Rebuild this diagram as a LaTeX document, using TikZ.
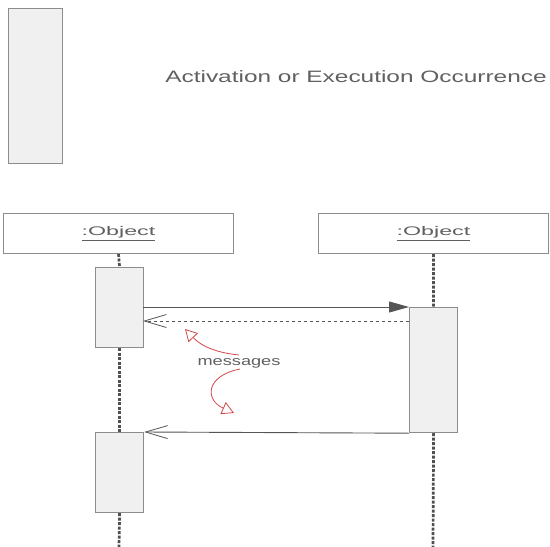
\documentclass[tikz,border=0pt]{standalone}
\usepackage{fontspec}
\setmainfont{Liberation Sans}
\usetikzlibrary{arrows.meta}
\definecolor{boxline}{HTML}{8C8C8C}
\definecolor{actfill}{HTML}{F0F0F0}
\definecolor{txt}{HTML}{606060}
\definecolor{lifeline}{HTML}{505050}
\definecolor{msg}{HTML}{555555}
\definecolor{redarr}{HTML}{D04848}
\tikzset{
  actbox/.style={draw=boxline, line width=1.2pt, fill=actfill, inner sep=0pt, minimum width=48pt, anchor=north west},
  objbox/.style={draw=boxline, line width=1pt, fill=white, inner sep=0pt, minimum width=230pt, minimum height=40pt, anchor=north west},
  lifeln/.style={draw=lifeline, line width=2.7pt, dash pattern=on 3pt off 1.5pt},
  syncmsg/.style={draw=msg, line width=0.9pt, -{Triangle[length=20pt,width=11pt]}},
  retmsg/.style={draw=msg, line width=0.8pt, dashed, -{Straight Barb[length=22pt,width=13pt,line width=0.8pt]}},
  plainmsg/.style={draw=msg, line width=0.9pt, -{Straight Barb[length=22pt,width=13pt,line width=0.8pt]}},
  redcurve/.style={draw=redarr, line width=0.8pt, -{Triangle[open,length=12pt,width=13pt,line width=0.8pt]}},
  lbl/.style={text=txt, inner sep=0pt}
}
\begin{document}
\begin{tikzpicture}[x=1pt,y=-1pt]
\useasboundingbox (0,0) rectangle (550,547);
% legend
\node[actbox, minimum width=54pt, minimum height=155pt] (legend) at (8,8) {};
\node[lbl] (legendtxt) at (356,77) {\fontsize{16.5}{18}\selectfont\scalebox{1.48}[1]{Activation or Execution Occurrence}};
% objects
\node[objbox] (objA) at (3,213) {};
\node[objbox] (objB) at (318,213) {};
\node[lbl] (labA) at (objA.center) {\fontsize{12.5}{14}\selectfont\scalebox{1.86}[1]{\underline{:Object}}};
\node[lbl] (labB) at (objB.center) {\fontsize{12.5}{14}\selectfont\scalebox{1.86}[1]{\underline{:Object}}};
% activations
\node[actbox, minimum height=80pt] (actA1) at (95,267) {};
\node[actbox, minimum height=80pt] (actA2) at (95,432) {};
\node[actbox, minimum height=125pt] (actB1) at (409,307) {};
\coordinate (endA) at (119,547);
\coordinate (endB) at (433,547);
% lifelines
\draw[lifeln] (objA.south) -- (actA1.north);
\draw[lifeln] (actA1.south) -- (actA2.north);
\draw[lifeln] (actA2.south) -- (endA);
\draw[lifeln] (objB.south) -- (actB1.north);
\draw[lifeln] (actB1.south) -- (endB);
% messages
\coordinate (m1s) at (143,307);
\coordinate (m2s) at (409,321);
\coordinate (m2e) at (143,321);
\draw[syncmsg] (m1s) -- (actB1.north west);
\draw[retmsg] (m2s) -- (m2e);
\draw[plainmsg] (actB1.south west) -- (actA2.north east);
% label with red pointers
\node[lbl] (msgs) at (239,363) {\fontsize{13}{15}\selectfont\scalebox{1.4}[1]{messages}};
\coordinate (r1s) at (239,355);
\coordinate (r1e) at (185,329);
\coordinate (r2s) at (240,369);
\coordinate (r2e) at (234,413);
\draw[redcurve] (r1s) .. controls (220,353) and (203,348) .. (r1e);
\draw[redcurve] (r2s) .. controls (205,376) and (205,400) .. (r2e);
\end{tikzpicture}
\end{document}
